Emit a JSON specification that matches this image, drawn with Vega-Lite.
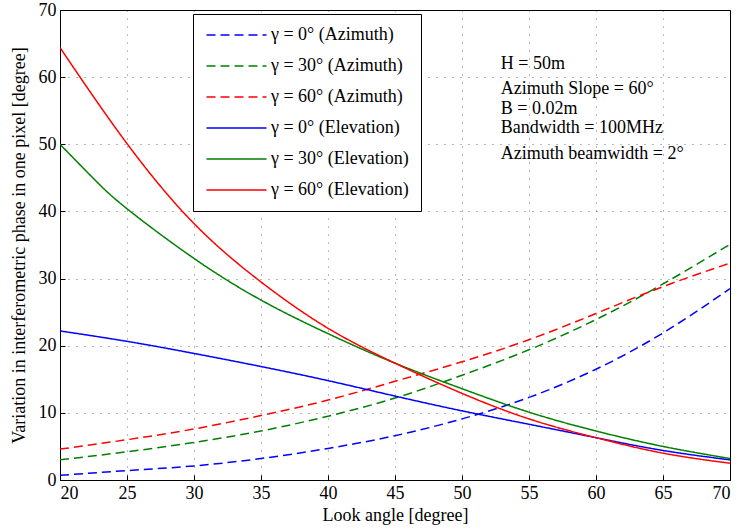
{
  "$schema": "https://vega.github.io/schema/vega-lite/v6.json",
  "width": 670,
  "height": 470,
  "autosize": {"type": "none"},
  "padding": {"left": 60, "top": 10, "right": 11, "bottom": 51},
  "background": "white",
  "config": {
    "view": {"stroke": "black", "strokeWidth": 1},
    "font": "Liberation Serif",
    "axis": {
      "labelFont": "Liberation Serif",
      "labelFontSize": 18,
      "labelColor": "black",
      "titleFont": "Liberation Serif",
      "titleFontSize": 18,
      "titleFontWeight": "normal",
      "titleColor": "black",
      "domainColor": "black",
      "tickColor": "black",
      "tickSize": -5,
      "labelPadding": 9,
      "grid": true,
      "gridColor": "#000000",
      "gridOpacity": 0.55,
      "gridDash": [1, 7]
    },
    "legend": {
      "orient": "none",
      "legendX": 133,
      "legendY": 4,
      "strokeColor": "black",
      "fillColor": "white",
      "padding": 12,
      "symbolType": "M-1,0H7",
      "symbolSize": 225,
      "symbolStrokeWidth": 1.5,
      "labelFont": "Liberation Serif",
      "labelFontSize": 18,
      "labelColor": "black",
      "labelLimit": 300,
      "labelOffset": 48,
      "rowPadding": 13,
      "cornerRadius": 0
    }
  },
  "datasets": {
    "curves": [
      {"angle": 20, "value": 0.7, "series": "γ = 0° (Azimuth)"},
      {"angle": 25, "value": 1.4, "series": "γ = 0° (Azimuth)"},
      {"angle": 30, "value": 2.1, "series": "γ = 0° (Azimuth)"},
      {"angle": 35, "value": 3.2, "series": "γ = 0° (Azimuth)"},
      {"angle": 40, "value": 4.7, "series": "γ = 0° (Azimuth)"},
      {"angle": 45, "value": 6.6, "series": "γ = 0° (Azimuth)"},
      {"angle": 50, "value": 9.1, "series": "γ = 0° (Azimuth)"},
      {"angle": 55, "value": 12.3, "series": "γ = 0° (Azimuth)"},
      {"angle": 60, "value": 16.5, "series": "γ = 0° (Azimuth)"},
      {"angle": 65, "value": 21.9, "series": "γ = 0° (Azimuth)"},
      {"angle": 70, "value": 28.5, "series": "γ = 0° (Azimuth)"},

      {"angle": 20, "value": 3.0, "series": "γ = 30° (Azimuth)"},
      {"angle": 25, "value": 4.2, "series": "γ = 30° (Azimuth)"},
      {"angle": 30, "value": 5.6, "series": "γ = 30° (Azimuth)"},
      {"angle": 35, "value": 7.3, "series": "γ = 30° (Azimuth)"},
      {"angle": 40, "value": 9.5, "series": "γ = 30° (Azimuth)"},
      {"angle": 45, "value": 12.2, "series": "γ = 30° (Azimuth)"},
      {"angle": 50, "value": 15.6, "series": "γ = 30° (Azimuth)"},
      {"angle": 55, "value": 19.4, "series": "γ = 30° (Azimuth)"},
      {"angle": 60, "value": 23.9, "series": "γ = 30° (Azimuth)"},
      {"angle": 65, "value": 29.2, "series": "γ = 30° (Azimuth)"},
      {"angle": 70, "value": 35.1, "series": "γ = 30° (Azimuth)"},

      {"angle": 20, "value": 4.6, "series": "γ = 60° (Azimuth)"},
      {"angle": 25, "value": 6.0, "series": "γ = 60° (Azimuth)"},
      {"angle": 30, "value": 7.6, "series": "γ = 60° (Azimuth)"},
      {"angle": 35, "value": 9.6, "series": "γ = 60° (Azimuth)"},
      {"angle": 40, "value": 11.9, "series": "γ = 60° (Azimuth)"},
      {"angle": 45, "value": 14.7, "series": "γ = 60° (Azimuth)"},
      {"angle": 50, "value": 17.6, "series": "γ = 60° (Azimuth)"},
      {"angle": 55, "value": 20.9, "series": "γ = 60° (Azimuth)"},
      {"angle": 60, "value": 24.8, "series": "γ = 60° (Azimuth)"},
      {"angle": 65, "value": 28.8, "series": "γ = 60° (Azimuth)"},
      {"angle": 70, "value": 32.3, "series": "γ = 60° (Azimuth)"},

      {"angle": 20, "value": 22.2, "series": "γ = 0° (Elevation)"},
      {"angle": 25, "value": 20.65, "series": "γ = 0° (Elevation)"},
      {"angle": 30, "value": 18.85, "series": "γ = 0° (Elevation)"},
      {"angle": 35, "value": 16.9, "series": "γ = 0° (Elevation)"},
      {"angle": 40, "value": 14.8, "series": "γ = 0° (Elevation)"},
      {"angle": 45, "value": 12.5, "series": "γ = 0° (Elevation)"},
      {"angle": 50, "value": 10.3, "series": "γ = 0° (Elevation)"},
      {"angle": 55, "value": 8.3, "series": "γ = 0° (Elevation)"},
      {"angle": 60, "value": 6.3, "series": "γ = 0° (Elevation)"},
      {"angle": 65, "value": 4.4, "series": "γ = 0° (Elevation)"},
      {"angle": 70, "value": 3.0, "series": "γ = 0° (Elevation)"},

      {"angle": 20, "value": 50.0, "series": "γ = 30° (Elevation)"},
      {"angle": 22.5, "value": 44.9, "series": "γ = 30° (Elevation)"},
      {"angle": 25, "value": 40.4, "series": "γ = 30° (Elevation)"},
      {"angle": 30, "value": 33.0, "series": "γ = 30° (Elevation)"},
      {"angle": 35, "value": 26.8, "series": "γ = 30° (Elevation)"},
      {"angle": 40, "value": 21.8, "series": "γ = 30° (Elevation)"},
      {"angle": 45, "value": 17.4, "series": "γ = 30° (Elevation)"},
      {"angle": 50, "value": 13.6, "series": "γ = 30° (Elevation)"},
      {"angle": 55, "value": 10.1, "series": "γ = 30° (Elevation)"},
      {"angle": 60, "value": 7.3, "series": "γ = 30° (Elevation)"},
      {"angle": 65, "value": 5.0, "series": "γ = 30° (Elevation)"},
      {"angle": 70, "value": 3.2, "series": "γ = 30° (Elevation)"},

      {"angle": 20, "value": 64.4, "series": "γ = 60° (Elevation)"},
      {"angle": 25, "value": 50.1, "series": "γ = 60° (Elevation)"},
      {"angle": 30, "value": 38.2, "series": "γ = 60° (Elevation)"},
      {"angle": 35, "value": 29.5, "series": "γ = 60° (Elevation)"},
      {"angle": 40, "value": 22.6, "series": "γ = 60° (Elevation)"},
      {"angle": 45, "value": 17.4, "series": "γ = 60° (Elevation)"},
      {"angle": 50, "value": 12.9, "series": "γ = 60° (Elevation)"},
      {"angle": 55, "value": 9.1, "series": "γ = 60° (Elevation)"},
      {"angle": 60, "value": 6.3, "series": "γ = 60° (Elevation)"},
      {"angle": 65, "value": 4.0, "series": "γ = 60° (Elevation)"},
      {"angle": 70, "value": 2.5, "series": "γ = 60° (Elevation)"}
    ],
    "notes": [
      {"angle": 52.9, "value": 62.0, "label": "H = 50m"},
      {"angle": 52.9, "value": 58.3, "label": "Azimuth Slope = 60°"},
      {"angle": 52.9, "value": 55.3, "label": "B = 0.02m"},
      {"angle": 52.9, "value": 52.5, "label": "Bandwidth = 100MHz"},
      {"angle": 52.9, "value": 48.6, "label": "Azimuth beamwidth = 2°"}
    ]
  },
  "layer": [
    {
      "data": {"name": "curves"},
      "mark": {"type": "line", "strokeWidth": 1.5, "interpolate": "natural", "clip": true},
      "encoding": {
        "x": {
          "field": "angle", "type": "quantitative",
          "scale": {"domain": [20, 70], "nice": false, "zero": false},
          "axis": {"values": [20, 25, 30, 35, 40, 45, 50, 55, 60, 65, 70], "title": "Look angle [degree]", "titlePadding": 4}
        },
        "y": {
          "field": "value", "type": "quantitative",
          "scale": {"domain": [0, 70], "nice": false},
          "axis": {"values": [0, 10, 20, 30, 40, 50, 60, 70], "title": "Variation in interferometric phase in one pixel [degree]", "titlePadding": 10}
        },
        "color": {
          "field": "series", "type": "nominal", "title": null,
          "scale": {
            "domain": ["γ = 0° (Azimuth)", "γ = 30° (Azimuth)", "γ = 60° (Azimuth)", "γ = 0° (Elevation)", "γ = 30° (Elevation)", "γ = 60° (Elevation)"],
            "range": ["#0000ff", "#008000", "#ff0000", "#0000ff", "#008000", "#ff0000"]
          }
        },
        "strokeDash": {
          "field": "series", "type": "nominal", "title": null,
          "scale": {
            "domain": ["γ = 0° (Azimuth)", "γ = 30° (Azimuth)", "γ = 60° (Azimuth)", "γ = 0° (Elevation)", "γ = 30° (Elevation)", "γ = 60° (Elevation)"],
            "range": [[9, 5], [9, 5], [9, 5], [1, 0], [1, 0], [1, 0]]
          }
        }
      }
    },
    {
      "data": {"name": "notes"},
      "mark": {"type": "text", "align": "left", "baseline": "middle", "font": "Liberation Serif", "fontSize": 18, "color": "black"},
      "encoding": {
        "x": {"field": "angle", "type": "quantitative"},
        "y": {"field": "value", "type": "quantitative"},
        "text": {"field": "label"}
      }
    }
  ]
}
